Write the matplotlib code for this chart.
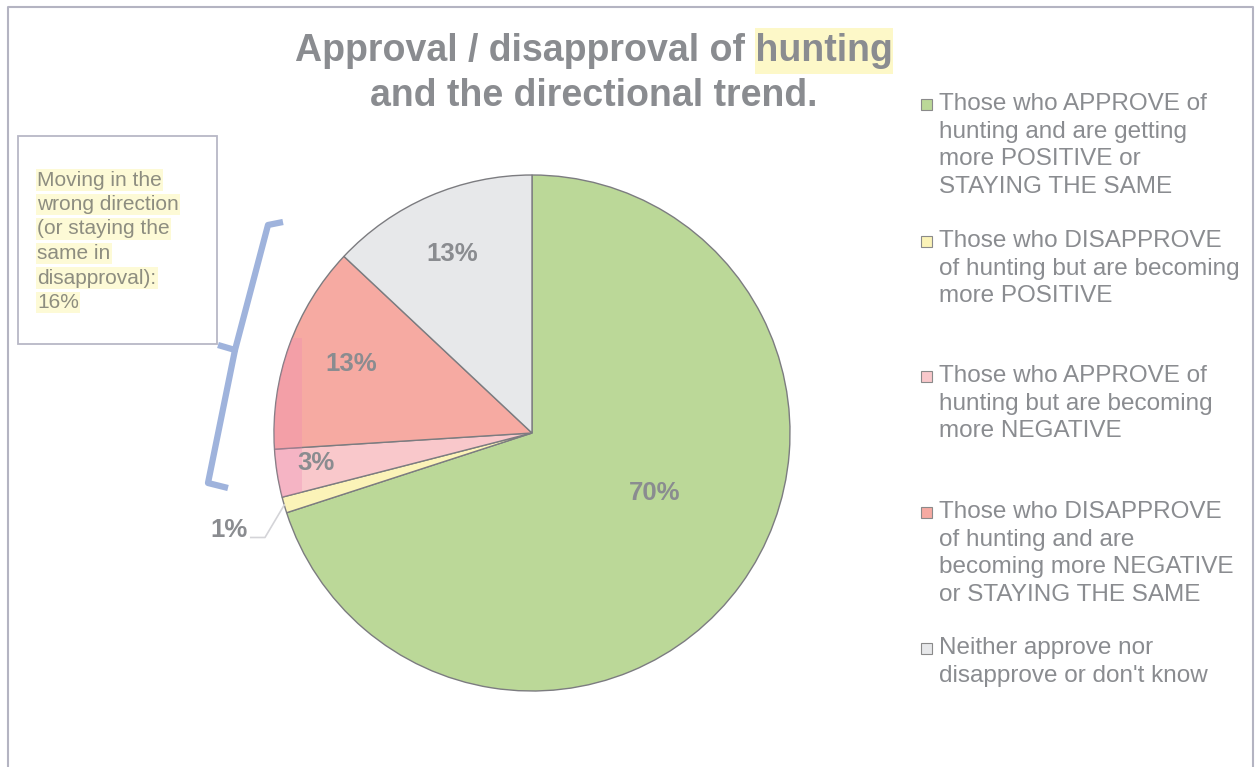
import matplotlib
matplotlib.use('agg')
import matplotlib.pyplot as plt
from matplotlib.patches import Rectangle
from matplotlib.lines import Line2D
import numpy as np

W, H = 1257, 767

title_lines = ['Approval / disapproval of hunting', 'and the directional trend.']
labels = ['Those who APPROVE of\nhunting and are getting\nmore POSITIVE or\nSTAYING THE SAME',
          'Those who DISAPPROVE\nof hunting but are becoming\nmore POSITIVE',
          'Those who APPROVE of\nhunting but are becoming\nmore NEGATIVE',
          'Those who DISAPPROVE\nof hunting and are\nbecoming more NEGATIVE\nor STAYING THE SAME',
          'Neither approve nor\ndisapprove or don\'t know']
shares = [70, 1, 3, 13, 13]
colors = ['#bbd898', '#fbf3b8', '#f9c8cb', '#f6aaa2', '#e7e8ea']
callout_text = 'Moving in the\nwrong direction\n(or staying the\nsame in\ndisapproval):\n16%'

GREY = '#8a8c90'
plt.rcParams['font.family'] = ['Liberation Sans', 'DejaVu Sans']


def px(x, y):
    # pixel (from top-left) -> figure fraction
    return x / W, 1 - y / H


fig = plt.figure(figsize=(W / 100, H / 100), dpi=100)
fig.patch.set_facecolor('white')

# outer frame
frame = Line2D([8 / W, 8 / W, 1253 / W, 1253 / W], [0, 1 - 7 / H, 1 - 7 / H, 0],
               transform=fig.transFigure, color='#b4b4c2', lw=1.5)
fig.add_artist(frame)

# pie
cx, cy, r = 532, 433, 258
ax = fig.add_axes([(cx - r) / W, (H - cy - r) / H, 2 * r / W, 2 * r / H])
wedges, _ = ax.pie(shares, colors=colors, startangle=90, counterclock=False,
                   radius=1, wedgeprops=dict(edgecolor='#7c7c80', linewidth=1.0))
ax.set_xlim(-1, 1)
ax.set_ylim(-1, 1)
ax.set_aspect('equal')
ax.axis('off')

# highlighter stroke over the left edge of the red slices
for w in wedges[2:4]:
    hl = Rectangle((-1.05, -0.25), 0.159, 0.62, facecolor='#ee86b4', alpha=0.3,
                   edgecolor='none', zorder=3)
    ax.add_patch(hl)
    hl.set_clip_path(w)

# percentage labels
label_rt = {0: (0.53, -26), 2: (0.845, 188), 3: (0.75, 159), 4: (0.76, 114)}
for i, (rad, ang) in label_rt.items():
    t = np.deg2rad(ang)
    ax.text(rad * np.cos(t), rad * np.sin(t), '%d%%' % shares[i], ha='center', va='center',
            fontsize=18.5, fontweight='bold', color=GREY, zorder=5)

# small slice gets an outside label with a leader line
w1 = wedges[1]
mid = np.deg2rad((w1.theta1 + w1.theta2) / 2)
ex, ey = np.cos(mid), np.sin(mid)
ax.plot([ex, -1.035, -1.09], [ey, -0.405, -0.405], color='#d4d4d8', lw=1.2, clip_on=False)
ax.text(-1.175, -0.375, '%d%%' % shares[1], ha='center', va='center',
        fontsize=18.5, fontweight='bold', color=GREY)

# title with highlighted word
fig.add_artist(Rectangle(px(755, 74), 138 / W, 46 / H, transform=fig.transFigure,
                         facecolor='#fdf8c8', edgecolor='none', zorder=0))
fig.text(*px(594, 51), title_lines[0], ha='center', va='center', fontsize=27,
         fontweight='bold', color=GREY)
fig.text(*px(594, 96), title_lines[1], ha='center', va='center', fontsize=27,
         fontweight='bold', color=GREY)

# legend
legend_top = [104, 241, 376, 512, 648]
step = 27.7
for lab, col, y in zip(labels, colors, legend_top):
    fig.add_artist(Rectangle(px(921, y + 6), 11 / W, 11 / H, transform=fig.transFigure,
                             facecolor=col, edgecolor='#8a8a8a', lw=0.8))
    for k, ln in enumerate(lab.split('\n')):
        fig.text(*px(939, y + k * step), ln, ha='left', va='center', fontsize=17.5,
                 color=GREY)

# callout box
fig.add_artist(Rectangle(px(18, 344), 199 / W, 208 / H, transform=fig.transFigure,
                         facecolor='white', edgecolor='#b8b8c6', lw=1.3))
line_y = 180
for ln in callout_text.split('\n'):
    fig.text(*px(37, line_y), ln, ha='left', va='center', fontsize=15, color='#8d8d80',
             bbox=dict(facecolor='#fdfad6', edgecolor='none', pad=1.0))
    line_y += 24.5

# brace linking the box to the red slices
bx = [283, 268, 235, 218]
by = [222, 225, 350, 345]
fig.add_artist(Line2D([x / W for x in bx], [1 - y / H for y in by], transform=fig.transFigure,
                      color='#9fb3dc', lw=4.5, solid_joinstyle='round', solid_capstyle='butt'))
bx = [235, 208, 228]
by = [350, 483, 488]
fig.add_artist(Line2D([x / W for x in bx], [1 - y / H for y in by], transform=fig.transFigure,
                      color='#9fb3dc', lw=4.5, solid_joinstyle='round', solid_capstyle='butt'))

fig.savefig('out.png', dpi=100, facecolor='white')
